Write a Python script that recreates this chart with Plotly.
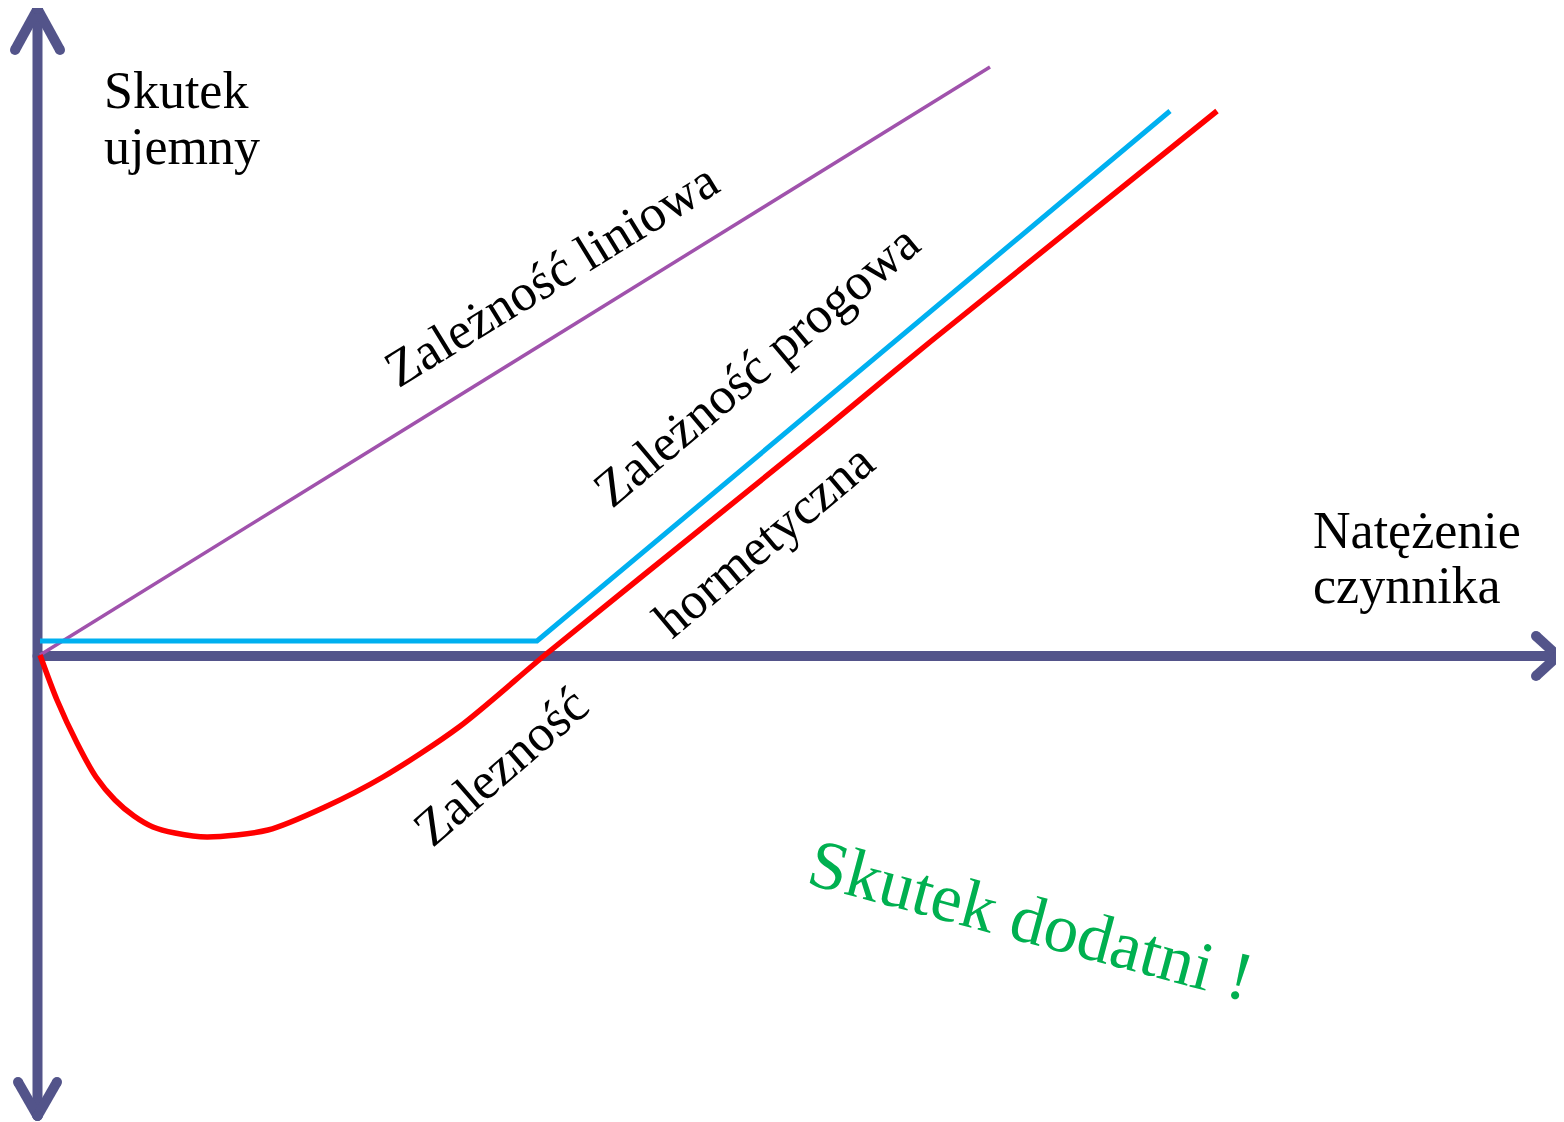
import plotly.graph_objects as go

# ---- data (units: intensity on x, adverse effect on y) ----
linear_x = [0.0, 9.50]
linear_y = [0.0, 5.88]

threshold_x = [0.0, 4.97, 11.30]
threshold_y = [0.14, 0.14, 5.44]

hormetic_x = [0.0, 0.17, 0.37, 0.56, 0.75, 0.94, 1.13, 1.35, 1.67, 2.28, 2.85, 3.43, 4.19, 5.05, 6.00, 7.87, 8.90, 11.77]
hormetic_y = [0.0, -0.45, -0.88, -1.22, -1.45, -1.61, -1.72, -1.78, -1.82, -1.75, -1.52, -1.22, -0.72, 0.0, 0.77, 2.28, 3.13, 5.44]

W, H = 1564, 1122
PAGE_OFF = 8       # body margin of the html page
OX, OY = 40, 655   # page-pixel position of origin
S = 100.0          # pixels per unit


def X(px):
    return (px - OX) / S


def Y(py):
    return (OY - py) / S


AXIS = "#53548A"
fig = go.Figure()

# ---- axes (decoration) ----
def seg(p_list, width=10):
    xs, ys = [], []
    for (a, b) in p_list:
        xs += [X(a[0]), X(b[0]), None]
        ys += [Y(a[1]), Y(b[1]), None]
    fig.add_trace(go.Scatter(x=xs, y=ys, mode="lines", line=dict(color=AXIS, width=width),
                             hoverinfo="skip", showlegend=False))
    mx, my = [], []
    for (a, b) in p_list:
        for p in (a, b):
            mx.append(X(p[0])); my.append(Y(p[1]))
    fig.add_trace(go.Scatter(x=mx, y=my, mode="markers",
                             marker=dict(color=AXIS, size=width, line=dict(width=0)),
                             hoverinfo="skip", showlegend=False))

seg([
    ((37.5, 1116), (37.5, 9)),            # vertical shaft
    ((37.5, 9), (15, 50)), ((37.5, 9), (60, 50)),        # top head
    ((37.5, 1116), (18, 1082)), ((37.5, 1116), (57, 1082)),  # bottom head
    ((37.5, 656), (1558, 656)),          # horizontal shaft
    ((1558, 656), (1536, 636)), ((1558, 656), (1536, 676)),  # right head
])

# ---- series ----
fig.add_trace(go.Scatter(x=linear_x, y=linear_y, mode="lines",
                         line=dict(color="#A052AC", width=3.5), showlegend=False, name="Zależność liniowa"))
fig.add_trace(go.Scatter(x=threshold_x, y=threshold_y, mode="lines",
                         line=dict(color="#00B0F0", width=5), showlegend=False, name="Zależność progowa"))
fig.add_trace(go.Scatter(x=hormetic_x, y=hormetic_y, mode="lines",
                         line=dict(color="#FF0000", width=5.5, shape="spline", smoothing=0.8),
                         showlegend=False, name="Zależność hormetyczna"))

FONT = "Liberation Serif"
FS = 52


def label(text, px, py, angle=0, size=FS, color="black", xanchor="center", yanchor="middle"):
    fig.add_annotation(x=X(px), y=Y(py), xref="x", yref="y", text=text, showarrow=False,
                       textangle=angle, xanchor=xanchor, yanchor=yanchor,
                       font=dict(family=FONT, size=size, color=color))

label("Skutek", 102, 90, xanchor="left")
label("ujemny", 102, 146, xanchor="left")
label("Natężenie", 1311, 530, xanchor="left")
label("czynnika", 1311, 585, xanchor="left")

label("Zależność liniowa", 551, 274, angle=-31.5)
label("Zależność progowa", 756, 365, angle=-40)
label("hormetyczna", 763, 540, angle=-40)
label("Zalezność", 500, 766, angle=-41)
label("Skutek dodatni !", 1031, 920, angle=15, size=69, color="#00B050")

fig.update_layout(
    width=W, height=H,
    margin=dict(l=0, r=0, t=0, b=0),
    paper_bgcolor="white", plot_bgcolor="white",
    xaxis=dict(range=[X(PAGE_OFF), X(PAGE_OFF + W)], visible=False, fixedrange=True),
    yaxis=dict(range=[Y(PAGE_OFF + H), Y(PAGE_OFF)], visible=False, fixedrange=True),
    showlegend=False,
)

fig.write_html("out.html")
